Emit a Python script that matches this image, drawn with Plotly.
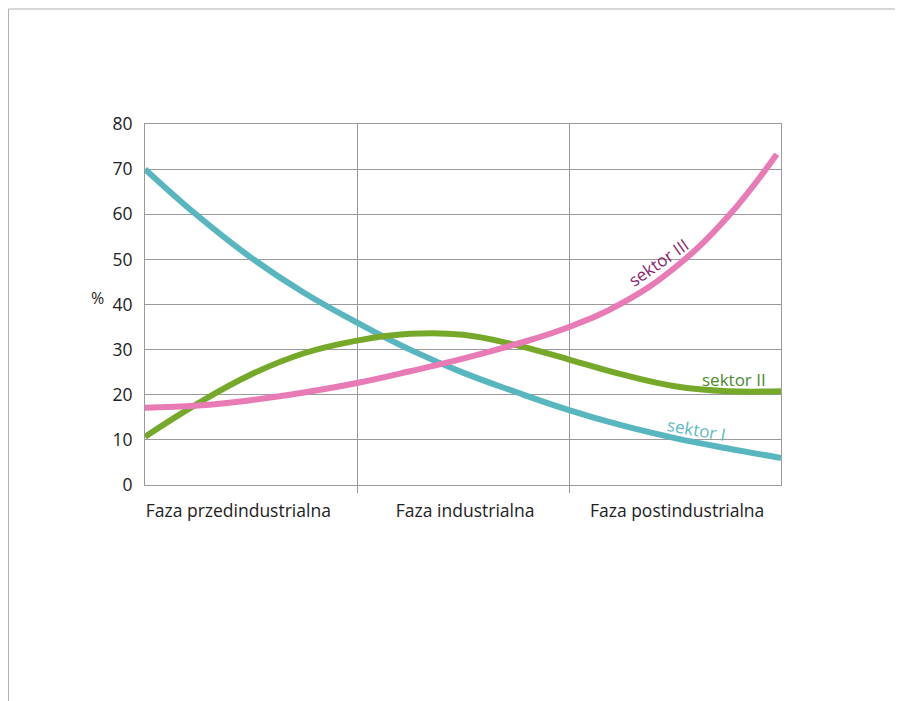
import plotly.graph_objects as go

# Phases (category labels on x axis)
phases = ["Faza przedindustrialna", "Faza industrialna", "Faza postindustrialna"]

# Positions along the development path (0 = start, 3 = end)
pos = [0, 0.25, 0.5, 0.75, 1.0, 1.25, 1.5, 1.75, 2.0, 2.25, 2.5, 2.75, 3.0]

# Sector I (agriculture)
s1_y = [70, 59.6, 50.4, 42.6, 36.0, 30.0, 24.9, 20.6, 16.6, 13.2, 10.4, 8.1, 6.0]
# Sector II (industry)
s2_y = [10.7, 18.1, 24.5, 29.2, 32.0, 33.5, 33.3, 31.0, 27.8, 24.5, 21.9, 20.8, 20.8]
# Sector III (services)
s3_pos = [0, 0.25, 0.5, 0.75, 1.0, 1.25, 1.5, 1.75, 2.0, 2.25, 2.5, 2.75, 2.98]
s3_y = [17.1, 17.6, 18.8, 20.5, 22.6, 25.2, 28.0, 31.2, 35.0, 40.3, 48.2, 59.5, 73.3]

y_ticks = [0, 10, 20, 30, 40, 50, 60, 70, 80]

FONT = "Open Sans"
GRID = "#9a9a9a"

fig = go.Figure()
fig.add_trace(go.Scatter(x=pos, y=s1_y, mode="lines",
                         line=dict(color="#58b6bf", width=6, shape="spline", smoothing=1.2),
                         showlegend=False, hoverinfo="skip"))
fig.add_trace(go.Scatter(x=pos, y=s2_y, mode="lines",
                         line=dict(color="#76a92a", width=6, shape="spline", smoothing=1.2),
                         showlegend=False, hoverinfo="skip"))
fig.add_trace(go.Scatter(x=s3_pos, y=s3_y, mode="lines",
                         line=dict(color="#e87ab5", width=6, shape="spline", smoothing=1.2),
                         showlegend=False, hoverinfo="skip"))

fig.add_annotation(x=2.42, y=49.4, text="sektor III", showarrow=False, textangle=-35,
                   font=dict(family=FONT, size=17, color="#8a1f6e"))
fig.add_annotation(x=2.78, y=23.3, text="sektor II", showarrow=False,
                   font=dict(family=FONT, size=17, color="#4f8a2f"))
fig.add_annotation(x=2.60, y=12.4, text="sektor I", showarrow=False, textangle=10,
                   font=dict(family=FONT, size=17, color="#5bb9c1"))
fig.add_annotation(xref="paper", yref="paper", x=-0.075, y=0.518, xanchor="center",
                   text="%", showarrow=False,
                   font=dict(family=FONT, size=16, color="#222222"))

# outer frame (left and top border)
fig.add_shape(type="line", xref="paper", yref="paper", x0=-0.2146, x1=1.25, y0=1.3186, y1=1.3186,
              line=dict(color="#b0b0b0", width=1))
fig.add_shape(type="line", xref="paper", yref="paper", x0=-0.2146, x1=-0.2146, y0=-0.65, y1=1.3186,
              line=dict(color="#b0b0b0", width=1))

fig.update_layout(
    width=903, height=701,
    margin=dict(l=137, r=130, t=116, b=224),
    paper_bgcolor="white", plot_bgcolor="white",
    font=dict(family=FONT, size=17, color="#222222"),
    xaxis=dict(range=[0, 3], tickvals=[0.44, 1.51, 2.51], ticktext=phases,
               showgrid=False, zeroline=False, ticks="", showline=True, linecolor=GRID,
               linewidth=1, mirror=True, ticklabelstandoff=10,
               minor=dict(tickvals=[1, 2], showgrid=True, gridcolor=GRID, gridwidth=1,
                          ticks="outside", ticklen=7, tickcolor=GRID),
               tickfont=dict(family=FONT, size=17.5, color="#222222")),
    yaxis=dict(range=[0, 80], tickvals=y_ticks, showgrid=True, gridcolor=GRID, gridwidth=1,
               zeroline=False, showline=True, linecolor=GRID, linewidth=1, mirror=True,
               ticks="", ticklabelstandoff=8,
               tickfont=dict(family=FONT, size=17.5, color="#222222")),
)

fig.write_html("out.html")
